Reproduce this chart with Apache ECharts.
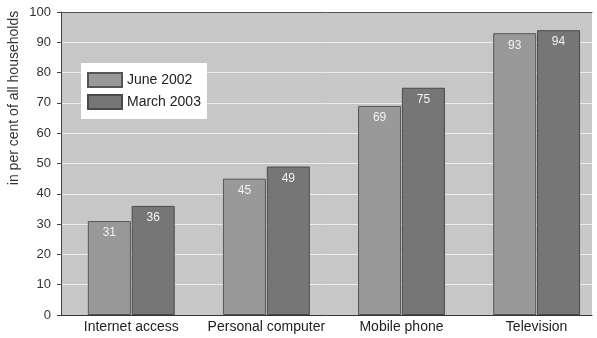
<!DOCTYPE html>
<html>
<head>
<meta charset="utf-8">
<script src="https://cdn.jsdelivr.net/npm/echarts@6/dist/echarts.min.js"></script>
<style>
  html, body { margin: 0; padding: 0; background: #fff; }
  #chart { width: 597px; height: 338px; }
</style>
</head>
<body>
<div id="chart"></div>
<script>
var categories = ['Internet access', 'Personal computer', 'Mobile phone', 'Television'];
var june2002 = [31, 45, 69, 93];
var march2003 = [36, 49, 75, 94];
var yTicks = [0, 10, 20, 30, 40, 50, 60, 70, 80, 90, 100];
var seriesNames = ['June 2002', 'March 2003'];

function toPoints(values) {
  return values.map(function (v, i) { return [i + 1, v]; });
}

var myChart = echarts.init(document.getElementById('chart'));
var font = 'Liberation Sans, Arial, sans-serif';

var option = {
  animation: false,
  textStyle: { fontFamily: font },
  grid: {
    left: 61,
    right: 5,
    top: 12,
    bottom: 23,
    show: true,
    backgroundColor: '#c7c7c7',
    borderWidth: 0
  },
  legend: {
    orient: 'vertical',
    left: 81,
    top: 63,
    backgroundColor: '#ffffff',
    padding: [9, 6, 9, 6],
    itemWidth: 34,
    itemHeight: 14,
    itemGap: 6,
    icon: 'rect',
    textStyle: { color: '#222', fontSize: 14, fontFamily: font },
    data: seriesNames
  },
  graphic: [{
    type: 'text',
    x: 14,
    y: 98,
    rotation: Math.PI / 2,
    style: {
      text: 'in per cent of all households',
      fill: '#333',
      font: '14px Liberation Sans, Arial, sans-serif',
      textAlign: 'center',
      textVerticalAlign: 'middle'
    }
  }],
  xAxis: [{
    type: 'value',
    min: 0.48,
    max: 4.41,
    axisLine: { show: true, lineStyle: { color: '#333', width: 1 } },
    axisTick: { show: false },
    splitLine: { show: false },
    axisLabel: {
      customValues: [1, 2, 3, 4],
      color: '#222',
      fontSize: 14,
      margin: 5,
      formatter: function (v) { return categories[Math.round(v) - 1] || ''; }
    }
  }, {
    type: 'value',
    position: 'top',
    min: 0.48,
    max: 4.41,
    axisLine: { show: true, lineStyle: { color: '#555', width: 1 } },
    axisTick: { show: false },
    axisLabel: { show: false },
    splitLine: { show: false }
  }],
  yAxis: {
    type: 'value',
    min: 0,
    max: 100,
    interval: 10,
    axisLine: { show: true, lineStyle: { color: '#444' } },
    axisTick: { show: true, length: 4, lineStyle: { color: '#444' } },
    axisLabel: {
      color: '#333',
      fontSize: 13,
      margin: 10,
      customValues: yTicks
    },
    splitLine: { show: true, lineStyle: { color: '#ececec', width: 1 } }
  },
  series: [{
    name: seriesNames[0],
    type: 'bar',
    barWidth: 43,
    barGap: '2%',
    itemStyle: { color: '#999999', borderColor: '#555', borderWidth: 1 },
    label: {
      show: true,
      position: 'insideTop',
      distance: 6,
      color: '#f2f2f2',
      fontSize: 12
    },
    data: toPoints(june2002)
  }, {
    name: seriesNames[1],
    type: 'bar',
    barWidth: 43,
    barGap: '2%',
    itemStyle: { color: '#767676', borderColor: '#4a4a4a', borderWidth: 1 },
    label: {
      show: true,
      position: 'insideTop',
      distance: 6,
      color: '#f2f2f2',
      fontSize: 12
    },
    data: toPoints(march2003)
  }]
};

myChart.setOption(option, true);
</script>
</body>
</html>
